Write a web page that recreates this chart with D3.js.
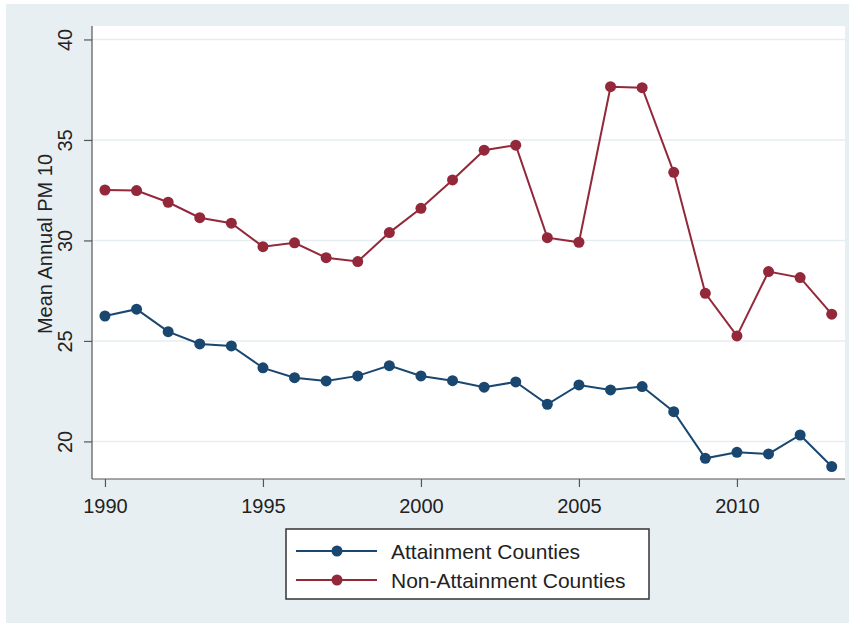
<!DOCTYPE html>
<html>
<head>
<meta charset="utf-8">
<script src="https://cdn.jsdelivr.net/npm/d3@7"></script>
<style>
  html, body { margin: 0; padding: 0; background: #ffffff; }
  svg { display: block; font-family: "Liberation Sans", Arial, sans-serif; }
</style>
</head>
<body>
<svg id="chart" width="856" height="626"></svg>
<script>
// Mean annual PM10 by county attainment status, 1990-2013
const years = d3.range(1990, 2014);
const attainment = [26.24, 26.58, 25.46, 24.85, 24.75, 23.66, 23.17, 23.01, 23.26, 23.77,
                    23.26, 23.02, 22.70, 22.96, 21.85, 22.81, 22.56, 22.73, 21.48, 19.16,
                    19.46, 19.38, 20.32, 18.75];
const nonAttainment = [32.51, 32.48, 31.90, 31.13, 30.86, 29.69, 29.88, 29.14, 28.95, 30.39,
                       31.60, 33.01, 34.49, 34.74, 30.14, 29.91, 37.65, 37.60, 33.39, 27.37,
                       25.25, 28.45, 28.15, 26.33];
const xTicks = [1990, 1995, 2000, 2005, 2010];
const yTicks = [20, 25, 30, 35, 40];
const seriesNames = ["Attainment Counties", "Non-Attainment Counties"];
const seriesColors = ["#1a476f", "#93283a"];

const svg = d3.select("#chart");

// outer graph region
svg.append("rect").attr("x", 6).attr("y", 4).attr("width", 843).attr("height", 619)
  .attr("fill", "#e8eff3");

// plot region
const plot = { left: 92, right: 845, top: 26, bottom: 479 };
svg.append("rect").attr("x", plot.left).attr("y", plot.top)
  .attr("width", plot.right - plot.left).attr("height", plot.bottom - plot.top)
  .attr("fill", "#ffffff");

const x = d3.scaleLinear().domain([1989.59, 2013.42]).range([plot.left, plot.right]);
const y = d3.scaleLinear().domain([18.13, 40.67]).range([plot.bottom, plot.top]);

// horizontal grid lines
svg.append("g").selectAll("line").data(yTicks).join("line")
  .attr("x1", plot.left).attr("x2", plot.right)
  .attr("y1", d => y(d)).attr("y2", d => y(d))
  .attr("stroke", "#e6edf1").attr("stroke-width", 1.5);

// y axis
const yAxis = svg.append("g").attr("transform", `translate(${plot.left},0)`)
  .call(d3.axisLeft(y).tickValues(yTicks).tickSize(8).tickPadding(0).tickFormat(d3.format("d")));
yAxis.select(".domain").attr("stroke", "#555").attr("stroke-width", 1.2)
  .attr("d", `M0,${plot.bottom}V${plot.top}`);
yAxis.selectAll(".tick line").attr("stroke", "#555").attr("stroke-width", 1.2);
yAxis.selectAll(".tick text")
  .attr("x", 0).attr("y", 0).attr("dy", null)
  .attr("transform", `translate(${72 - plot.left},0) rotate(-90)`)
  .attr("text-anchor", "middle")
  .attr("font-size", 20).attr("font-family", "Liberation Sans, Arial, sans-serif")
  .attr("fill", "#222");

// x axis
const xAxis = svg.append("g").attr("transform", `translate(0,${plot.bottom})`)
  .call(d3.axisBottom(x).tickValues(xTicks).tickSize(8).tickPadding(0).tickFormat(d3.format("d")));
xAxis.select(".domain").attr("stroke", "#555").attr("stroke-width", 1.2)
  .attr("d", `M${plot.left},0H${plot.right}`);
xAxis.selectAll(".tick line").attr("stroke", "#555").attr("stroke-width", 1.2);
xAxis.selectAll(".tick text")
  .attr("y", 34).attr("dy", null)
  .attr("font-size", 20).attr("font-family", "Liberation Sans, Arial, sans-serif")
  .attr("fill", "#222");

// y axis title
svg.append("text")
  .attr("transform", "translate(52,244) rotate(-90)")
  .attr("text-anchor", "middle")
  .attr("font-size", 20).attr("fill", "#222")
  .text("Mean Annual PM 10");

// series lines and markers
const seriesData = [attainment, nonAttainment];
const line = d3.line().x((d, i) => x(years[i])).y(d => y(d));
seriesData.forEach((vals, k) => {
  const g = svg.append("g");
  g.append("path").datum(vals).attr("d", line)
    .attr("fill", "none").attr("stroke", seriesColors[k]).attr("stroke-width", 2);
  g.selectAll("circle").data(vals).join("circle")
    .attr("cx", (d, i) => x(years[i])).attr("cy", d => y(d)).attr("r", 5.5)
    .attr("fill", seriesColors[k]);
});

// legend
const legend = svg.append("g");
legend.append("rect").attr("x", 286).attr("y", 529).attr("width", 363).attr("height", 70)
  .attr("fill", "#ffffff").attr("stroke", "#333").attr("stroke-width", 1.5);
seriesNames.forEach((name, k) => {
  const cy = 551 + k * 29;
  legend.append("line").attr("x1", 296).attr("x2", 377).attr("y1", cy).attr("y2", cy)
    .attr("stroke", seriesColors[k]).attr("stroke-width", 2);
  legend.append("circle").attr("cx", 337).attr("cy", cy).attr("r", 5.5)
    .attr("fill", seriesColors[k]);
  legend.append("text").attr("x", 391).attr("y", cy + 7.5)
    .attr("font-size", 21).attr("fill", "#222").text(name);
});
</script>
</body>
</html>
